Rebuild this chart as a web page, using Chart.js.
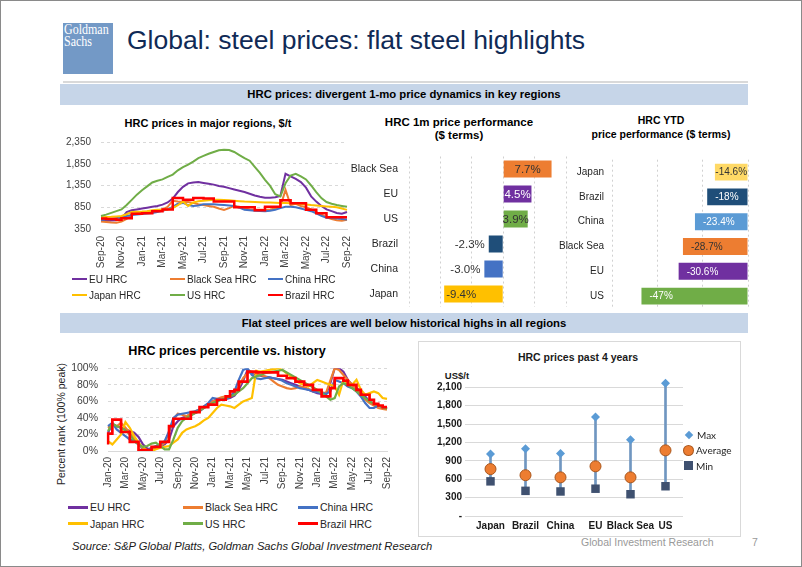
<!DOCTYPE html>
<html>
<head>
<meta charset="utf-8">
<script src="https://cdn.jsdelivr.net/npm/chart.js@4.4.0/dist/chart.umd.min.js"></script>
<style>
  html, body { margin: 0; padding: 0; background: #fff; }
  body { width: 802px; height: 567px; overflow: hidden; font-family: 'Liberation Sans', Arial, sans-serif; }
  #slide { position: relative; width: 802px; height: 567px; background: #fff; }
  #frame { position: absolute; left: 0; top: 0; width: 800px; height: 565px; border: 1px solid #8a8a8a; }
  .abs { position: absolute; }
  canvas { position: absolute; }
  .ttl { position: absolute; text-align: center; font-weight: bold; color: #000; white-space: nowrap; }
  .banner { position: absolute; left: 60px; width: 688px; background: #C6D5E8; text-align: center;
            font-weight: bold; font-size: 11.3px; color: #000; }
  .legend { position: absolute; display: grid; color: #262626; }
  .legend .item { display: flex; align-items: center; white-space: nowrap; }
  .legend .mark { display: inline-block; }
</style>
</head>
<body>
<div id="slide">
  <div id="frame"></div>

  <div class="abs" style="left:63px; top:23px; width:50px; height:51px; background:#7399C6;"></div>
  <div class="abs" style="left:64px; top:24px; color:#fff; font-family:'Liberation Serif', serif; font-size:15px; line-height:11.5px; transform:scale(0.8, 1); transform-origin:0 0;">Goldman<br>Sachs</div>
  <div class="abs" style="left:127px; top:24px; font-size:26.5px; line-height:32px; color:#102A56; white-space:nowrap;">Global: steel prices: flat steel highlights</div>
  <div class="abs" style="left:63px; top:81px; width:685px; height:2px; background:#D9D9D9;"></div>

  <div class="banner" style="top:84px; height:21px; line-height:21px;">HRC prices: divergent 1-mo price dynamics in key regions</div>
  <div class="banner" style="top:313px; height:20px; line-height:20px;">Flat steel prices are well below historical highs in all regions</div>

  <div class="ttl" style="left:58px; top:116px; width:300px; font-size:11px; line-height:14px;">HRC prices in major regions, $/t</div>
  <div class="ttl" style="left:349px; top:116px; width:220px; font-size:11.5px; line-height:13.4px;">HRC 1m price performance<br>($ terms)</div>
  <div class="ttl" style="left:561px; top:113px; width:200px; font-size:10.5px; line-height:14px;">HRC YTD<br>price performance ($ terms)</div>
  <div class="ttl" style="left:77px; top:343px; width:300px; font-size:12.6px; line-height:16px;">HRC prices percentile vs. history</div>
  <div class="abs" style="left:-4px; top:417px; width:130px; height:14px; line-height:14px; text-align:center; font-size:10.5px; color:#262626; transform:rotate(-90deg); white-space:nowrap;">Percent rank (100% peak)</div>

  <div class="abs" style="left:418px; top:341px; width:321px; height:194px; border:1px solid #D9D9D9;"></div>
  <div class="ttl" style="left:478px; top:350px; width:200px; font-size:10.5px; line-height:14px; color:#1a1a1a;">HRC prices past 4 years</div>
  <div class="ttl" style="left:437px; top:369px; width:40px; font-size:9.5px; line-height:13px; color:#1a1a1a;">US$/t</div>

  <canvas id="priceChart" width="319" height="138" style="left:40px; top:133px;"></canvas>
  <canvas id="oneMonthChart" width="225" height="163" style="left:345px; top:150px;"></canvas>
  <canvas id="ytdChart" width="205" height="165" style="left:550px; top:150px;"></canvas>
  <canvas id="pctChart" width="359" height="132" style="left:40px; top:360px;"></canvas>
  <canvas id="rangeChart" width="270" height="161" style="left:420px; top:369px;"></canvas>

  <div id="priceLegend" class="legend" style="left:72px; top:271px; grid-template-columns:98px 98px 80px; grid-auto-rows:16px; font-size:10px;"></div>
  <div id="pctLegend" class="legend" style="left:68px; top:499px; grid-template-columns:115px 115px 90px; grid-auto-rows:16.6px; font-size:10.5px;"></div>
  <div id="rangeLegend" class="legend" style="left:684px; top:427px; grid-template-columns:60px; grid-auto-rows:15.5px; font-size:10px; font-family:Lato, sans-serif;"></div>

  <div class="abs" style="left:72px; top:540px; font-size:11.2px; font-style:italic; color:#1a1a1a; white-space:nowrap;">Source: S&amp;P Global Platts, Goldman Sachs Global Investment Research</div>
  <div class="abs" style="left:581px; top:536px; font-size:10.5px; color:#999; white-space:nowrap;">Global Investment Research</div>
  <div class="abs" style="left:752px; top:536px; font-size:10.5px; color:#999;">7</div>
</div>

<script>
Chart.defaults.font.family = "'Liberation Sans', Arial, sans-serif";
Chart.defaults.color = '#404040';

// ---- HRC prices in major regions, $/t (half-month points, Sep-20 .. Sep-22)
const priceMonths = ['Sep-20', 'Oct-20', 'Nov-20', 'Dec-20', 'Jan-21', 'Feb-21', 'Mar-21', 'Apr-21', 'May-21',
  'Jun-21', 'Jul-21', 'Aug-21', 'Sep-21', 'Oct-21', 'Nov-21', 'Dec-21', 'Jan-22', 'Feb-22', 'Mar-22', 'Apr-22',
  'May-22', 'Jun-22', 'Jul-22', 'Aug-22', 'Sep-22'];
const euHrc = [540, 540, 545, 550, 590, 740, 780, 800, 820, 840, 860, 880, 910, 960, 1050, 1200, 1320, 1400, 1420, 1430,
  1410, 1390, 1370, 1340, 1320, 1290, 1260, 1230, 1200, 1160, 1120, 1090, 1070, 1070, 1080, 1110, 1620, 1560, 1500, 1430,
  1300, 1100, 980, 880, 800, 760, 720, 700, 740];
const blackSeaHrc = [520, 510, 500, 495, 520, 580, 680, 720, 740, 745, 750, 780, 800, 860, 1000, 980, 970, 970, 950, 920,
  900, 880, 860, 820, 790, 830, 880, 860, 830, 800, 790, 790, 790, 800, 820, 860, 1250, 900, 930, 880,
  850, 800, 740, 680, 620, 580, 550, 540, 560];
const chinaHrc = [560, 570, 580, 600, 620, 650, 670, 685, 695, 705, 720, 740, 770, 800, 860, 930, 950, 900, 880, 890,
  920, 920, 920, 910, 900, 890, 880, 840, 790, 780, 770, 765, 760, 770, 790, 830, 860, 860, 850, 820,
  790, 760, 710, 650, 610, 600, 590, 580, 570];
const japanHrc = [620, 625, 630, 640, 650, 690, 740, 745, 750, 760, 780, 790, 790, 800, 830, 900, 980, 880, 960, 990,
  1000, 1010, 1020, 1020, 1015, 1010, 1000, 990, 980, 975, 970, 965, 960, 960, 955, 950, 945, 940, 935, 925,
  915, 900, 890, 880, 870, 860, 850, 820, 790];
const usHrc = [650, 680, 720, 760, 800, 900, 1020, 1140, 1240, 1330, 1420, 1460, 1490, 1550, 1600, 1700, 1770, 1830, 1900, 1980,
  2030, 2080, 2120, 2160, 2170, 2165, 2120, 2050, 1980, 1920, 1780, 1640, 1480, 1340, 1150, 1100, 1400, 1580, 1620, 1560,
  1490, 1350, 1200, 1060, 970, 930, 900, 880, 860];
const brazilHrc = [590, 590, 580, 580, 560, 600, 600, 700, 700, 710, 710, 760, 760, 800, 800, 1060, 1060, 1020, 1020, 1060,
  1060, 1050, 1050, 980, 980, 980, 980, 850, 850, 850, 850, 780, 780, 860, 860, 860, 1010, 1010, 940, 940,
  940, 790, 790, 710, 710, 620, 620, 620, 620];

// ---- HRC 1m and YTD price performance, %
const oneMonthRegions = ['Black Sea', 'EU', 'US', 'Brazil', 'China', 'Japan'];
const oneMonthChange = [7.7, 4.5, 3.9, -2.3, -3.0, -9.4];
const ytdRegions = ['Japan', 'Brazil', 'China', 'Black Sea', 'EU', 'US'];
const ytdChange = [-14.6, -18, -23.4, -28.7, -30.6, -47];

// ---- HRC prices percentile vs. history, % (half-month points, Jan-20 .. Sep-22)
const pctMonths = ['Jan-20', 'Feb-20', 'Mar-20', 'Apr-20', 'May-20', 'Jun-20', 'Jul-20', 'Aug-20', 'Sep-20', 'Oct-20',
  'Nov-20', 'Dec-20', 'Jan-21', 'Feb-21', 'Mar-21', 'Apr-21', 'May-21', 'Jun-21', 'Jul-21', 'Aug-21', 'Sep-21',
  'Oct-21', 'Nov-21', 'Dec-21', 'Jan-22', 'Feb-22', 'Mar-22', 'Apr-22', 'May-22', 'Jun-22', 'Jul-22', 'Aug-22', 'Sep-22'];
const euPct = [22, 33, 30, 28, 26, 24, 22, 17, 8, 3, 2, 4, 6, 8, 14, 30, 36, 40, 42, 44, 46, 48, 52, 56, 60, 61, 62, 63, 64, 67,
  74, 85, 98, 95, 92, 91, 90, 89, 88, 87, 86, 84, 82, 80, 78, 76, 74, 72, 70, 69, 68, 82, 100, 100, 96, 86, 80, 76, 72, 66,
  60, 57, 55, 53, 51];
const blackSeaPct = [28, 32, 30, 34, 28, 22, 15, 10, 3, 0, 2, 5, 6, 10, 22, 38, 45, 44, 42, 45, 48, 50, 54, 57, 60, 63, 65, 66, 66, 70,
  78, 88, 94, 96, 94, 92, 90, 88, 84, 80, 78, 76, 75, 76, 78, 77, 75, 73, 72, 71, 70, 85, 100, 98, 92, 86, 80, 74, 68, 62,
  58, 55, 52, 51, 50];
const chinaPct = [30, 34, 26, 22, 18, 14, 12, 8, 3, 1, 4, 6, 8, 12, 24, 40, 44, 45, 46, 47, 48, 50, 54, 58, 64, 63, 62, 63, 65, 72,
  86, 98, 100, 92, 88, 87, 88, 89, 88, 87, 85, 82, 80, 78, 76, 75, 74, 72, 71, 70, 69, 72, 86, 84, 82, 78, 76, 72, 66, 58,
  52, 52, 55, 53, 52];
const japanPct = [12, 8, 14, 20, 35, 28, 18, 10, 4, 1, 0, 2, 4, 5, 6, 10, 14, 22, 26, 28, 30, 33, 37, 40, 46, 52, 56, 55, 54, 52,
  56, 60, 62, 64, 97, 96, 97, 98, 99, 100, 98, 94, 90, 86, 82, 80, 78, 82, 86, 84, 82, 80, 78, 68, 86, 82, 80, 86, 74, 68,
  70, 72, 70, 64, 63];
const usPct = [24, 33, 30, 28, 25, 20, 12, 8, 5, 6, 9, 10, 6, 2, 2, 14, 28, 36, 40, 43, 46, 49, 52, 55, 58, 60, 62, 64, 66, 68,
  72, 76, 82, 88, 90, 92, 94, 95, 96, 97, 98, 95, 92, 89, 86, 83, 80, 77, 74, 70, 66, 62, 64, 78, 82, 80, 76, 72, 68, 64,
  60, 57, 55, 53, 51];
const brazilPct = [8, 21, 38, 38, 23, 23, 11, 11, 1, 1, 1, 5, 5, 11, 11, 30, 39, 39, 39, 39, 47, 47, 53, 53, 56, 56, 62, 62, 66, 72,
  74, 84, 84, 96, 96, 95, 95, 95, 95, 95, 91, 91, 88, 88, 84, 84, 80, 80, 74, 74, 66, 66, 76, 88, 88, 85, 80, 80, 74, 68,
  68, 62, 57, 55, 53];

// ---- HRC prices past 4 years, US$/t
const rangeRegions = ['Japan', 'Brazil', 'China', 'EU', 'Black Sea', 'US'];
const maxPrice = [1010, 1095, 1020, 1615, 1245, 2165];
const avgPrice = [765, 665, 630, 810, 630, 1070];
const minPrice = [565, 410, 400, 445, 355, 485];

const seriesNames = ['EU HRC', 'Black Sea HRC', 'China HRC', 'Japan HRC', 'US HRC', 'Brazil HRC'];
const seriesColors = ['#7030A0', '#ED7D31', '#4472C4', '#FFC000', '#70AD47', '#FF0000'];

// one label per month plus an unlabelled mid-month point
function halfMonths(months) {
  return months.flatMap((m, i) => i < months.length - 1 ? [m, ''] : [m]);
}

function lineSets(arrays, width) {
  return arrays.map((d, i) => ({
    label: seriesNames[i],
    data: d,
    borderColor: seriesColors[i],
    borderWidth: i === 5 ? width + 0.5 : width,
    stepped: i === 5 ? 'after' : false,
    order: 5 - i,
    pointRadius: 0,
    tension: 0
  }));
}

function buildLineLegend(id, markW, markH) {
  const el = document.getElementById(id);
  seriesNames.forEach((n, i) => {
    el.insertAdjacentHTML('beforeend',
      `<div class="item"><span class="mark" style="width:${markW}px;height:${markH}px;background:${seriesColors[i]};margin-right:2px"></span>${n}</div>`);
  });
}

function barLabelPlugin(id, font, colors, format, inset) {
  return {
    id,
    afterDatasetsDraw(chart) {
      const ctx = chart.ctx;
      const ds = chart.data.datasets[0];
      ctx.save();
      ctx.font = font;
      ctx.textBaseline = 'middle';
      chart.getDatasetMeta(0).data.forEach((bar, i) => {
        const v = ds.data[i];
        const txt = format(v);
        const w = ctx.measureText(txt).width;
        const left = Math.min(bar.x, bar.base);
        const right = Math.max(bar.x, bar.base);
        ctx.fillStyle = colors[i];
        if (v >= 0) {
          ctx.textAlign = 'center';
          ctx.fillText(txt, (left + right) / 2, bar.y + 0.5);
        } else if (w > right - left) {
          ctx.textAlign = 'right';
          ctx.fillText(txt, left - 4, bar.y + 0.5);
        } else if (w + 2 * inset > right - left) {
          ctx.textAlign = 'center';
          ctx.fillText(txt, (left + right) / 2, bar.y + 0.5);
        } else {
          ctx.textAlign = 'left';
          ctx.fillText(txt, left + inset, bar.y + 0.5);
        }
      });
      ctx.restore();
    }
  };
}

const noPlugins = { legend: { display: false }, tooltip: { enabled: false } };

// gap between axis and its labels is made with an invisible tick mark,
// tick padding would also pad the plot area top and bottom
function hiddenTicks(len, color) {
  return { display: true, color: color || 'transparent', drawTicks: true, tickLength: len, tickColor: 'transparent' };
}

// Prices line chart
new Chart(document.getElementById('priceChart'), {
  type: 'line',
  data: {
    labels: halfMonths(priceMonths),
    datasets: lineSets([euHrc, blackSeaHrc, chinaHrc, japanHrc, usHrc, brazilHrc], 2)
  },
  options: {
    responsive: false,
    animation: false,
    layout: { padding: { top: 9, right: 0, left: 0, bottom: 0 } },
    plugins: noPlugins,
    scales: {
      x: {
        offset: false,
        afterFit: s => { s.height = 42; },
        grid: hiddenTicks(7),
        border: { color: '#D9D9D9' },
        ticks: {
          autoSkip: false, minRotation: 90, maxRotation: 90, padding: 0, font: { size: 10 },
          callback: function (v, i) { return i % 4 === 0 ? this.getLabelForValue(v) : ''; }
        }
      },
      y: {
        min: 350, max: 2350,
        afterFit: s => { s.width = 61; },
        grid: hiddenTicks(10, '#D9D9D9'),
        border: { display: false, dash: [3, 3] },
        ticks: { stepSize: 500, padding: 0, font: { size: 10 }, callback: v => v.toLocaleString('en-US') }
      }
    }
  }
});
buildLineLegend('priceLegend', 15, 2.5);

// 1m performance bars
new Chart(document.getElementById('oneMonthChart'), {
  type: 'bar',
  data: {
    labels: oneMonthRegions,
    datasets: [{
      data: oneMonthChange,
      backgroundColor: ['#ED7D31', '#7030A0', '#70AD47', '#1F4E79', '#4472C4', '#FFC000'],
      barPercentage: 0.68, categoryPercentage: 1
    }]
  },
  options: {
    indexAxis: 'y',
    responsive: false,
    animation: false,
    layout: { padding: { top: 6.5, right: 4, left: 0, bottom: 6.5 } },
    plugins: noPlugins,
    scales: {
      x: {
        min: -15, max: 10,
        afterFit: s => { s.height = 0; },
        ticks: { display: false, stepSize: 5 },
        grid: { color: '#D0D0D0', drawTicks: false },
        border: { display: false, dash: [2, 3] }
      },
      y: {
        afterFit: s => { s.width = 64; },
        grid: hiddenTicks(11),
        border: { display: false },
        ticks: { padding: 0, color: '#262626', font: { size: 10.5 } }
      }
    }
  },
  plugins: [barLabelPlugin('oneMonthLabels', "11.5px 'Liberation Sans', Arial",
    ['#333', '#fff', '#333', '#333', '#333', '#333'], v => v.toFixed(1) + '%', 2)]
});

// YTD performance bars
new Chart(document.getElementById('ytdChart'), {
  type: 'bar',
  data: {
    labels: ytdRegions,
    datasets: [{
      data: ytdChange,
      backgroundColor: ['#FFD966', '#1F4E79', '#5B9BD5', '#ED7D31', '#7030A0', '#70AD47'],
      barPercentage: 0.68, categoryPercentage: 1
    }]
  },
  options: {
    indexAxis: 'y',
    responsive: false,
    animation: false,
    layout: { padding: { top: 9.7, right: 7, left: 0, bottom: 6.5 } },
    plugins: noPlugins,
    scales: {
      x: {
        min: -60, max: 0,
        afterFit: s => { s.height = 0; },
        ticks: { display: false, stepSize: 20 },
        grid: { color: '#D0D0D0', drawTicks: false },
        border: { display: false, dash: [2, 3] }
      },
      y: {
        afterFit: s => { s.width = 62; },
        grid: hiddenTicks(8),
        border: { display: false },
        ticks: { padding: 0, color: '#262626', font: { size: 10 } }
      }
    }
  },
  plugins: [barLabelPlugin('ytdLabels', "10px 'Liberation Sans', Arial",
    ['#333', '#fff', '#fff', '#333', '#fff', '#fff'], v => v + '%', 8)]
});

// Percentile line chart
new Chart(document.getElementById('pctChart'), {
  type: 'line',
  data: {
    labels: halfMonths(pctMonths),
    datasets: lineSets([euPct, blackSeaPct, chinaPct, japanPct, usPct, brazilPct], 2.2)
  },
  options: {
    responsive: false,
    animation: false,
    layout: { padding: { top: 8.3, right: 0, left: 0, bottom: 0 } },
    plugins: noPlugins,
    scales: {
      x: {
        offset: false,
        afterFit: s => { s.height = 41; },
        grid: hiddenTicks(6),
        border: { color: '#D9D9D9' },
        ticks: {
          autoSkip: false, minRotation: 90, maxRotation: 90, padding: 0, font: { size: 10 },
          callback: function (v, i) { return i % 4 === 0 ? this.getLabelForValue(v) : ''; }
        }
      },
      y: {
        min: 0, max: 100,
        afterFit: s => { s.width = 68; },
        grid: hiddenTicks(10, '#D9D9D9'),
        border: { display: false, dash: [3, 3] },
        ticks: { stepSize: 20, padding: 0, font: { size: 10.5 }, callback: v => v + '%' }
      }
    }
  }
});
buildLineLegend('pctLegend', 20, 3);

// Range chart: min-max stem with max / average / min markers
new Chart(document.getElementById('rangeChart'), {
  type: 'bar',
  data: {
    labels: rangeRegions,
    datasets: [
      { type: 'bar', label: 'Range', data: rangeRegions.map((r, i) => [minPrice[i], maxPrice[i]]),
        backgroundColor: '#7096C0', barThickness: 2, order: 4 },
      { type: 'line', label: 'Max', data: maxPrice, showLine: false, pointStyle: 'rectRot', pointRadius: 4.5,
        backgroundColor: '#5B9BD5', borderColor: '#5B9BD5', borderWidth: 0, order: 1 },
      { type: 'line', label: 'Average', data: avgPrice, showLine: false, pointStyle: 'circle', pointRadius: 5.5,
        backgroundColor: '#ED7D31', borderColor: '#A9561C', borderWidth: 1, order: 2 },
      { type: 'line', label: 'Min', data: minPrice, showLine: false, pointStyle: 'rect', pointRadius: 6,
        backgroundColor: '#3F5170', borderColor: '#3F5170', borderWidth: 0, order: 3 }
    ]
  },
  options: {
    responsive: false,
    animation: false,
    layout: { padding: { top: 9, right: 7, left: 0, bottom: 0 } },
    plugins: noPlugins,
    scales: {
      x: {
        afterFit: s => { s.height = 14; },
        grid: { display: false, drawTicks: false },
        border: { display: false },
        ticks: { autoSkip: false, maxRotation: 0, minRotation: 0, padding: 4, color: '#1a1a1a', font: { size: 10, weight: 'bold' } }
      },
      y: {
        min: 0, max: 2250,
        afterFit: s => { s.width = 53; },
        grid: { color: '#D9D9D9', drawTicks: true, tickLength: 8 },
        border: { display: false },
        ticks: {
          stepSize: 300, includeBounds: false, autoSkip: false, padding: 3, color: '#1a1a1a', font: { size: 10, weight: 'bold' },
          callback: v => v === 0 ? '-' : v.toLocaleString('en-US')
        }
      }
    }
  }
});

// range legend, markers match the dataset point styles
const rangeLegend = document.getElementById('rangeLegend');
[
  ['Max', 'width:6px;height:6px;background:#5B9BD5;transform:rotate(45deg);margin:0 5px 0 2px'],
  ['Average', 'width:9px;height:9px;border-radius:50%;background:#ED7D31;box-shadow:0 0 0 1px #A9561C;margin:0 3px 0 0'],
  ['Min', 'width:9px;height:9px;background:#3F5170;margin:0 3px 0 0']
].forEach(([name, css]) => {
  rangeLegend.insertAdjacentHTML('beforeend', `<div class="item"><span class="mark" style="${css}"></span>${name}</div>`);
});
</script>
</body>
</html>
